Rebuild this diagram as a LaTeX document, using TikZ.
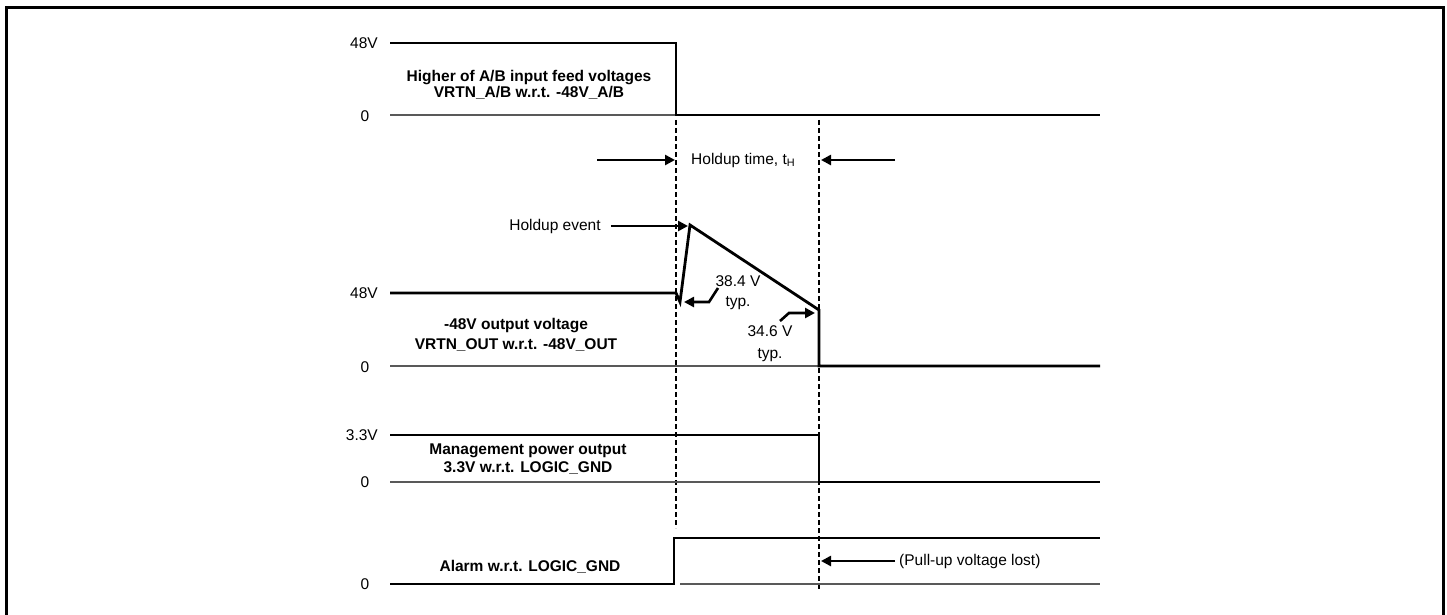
\documentclass[tikz,border=0pt]{standalone}
\usepackage{fontspec}
\setmainfont{Liberation Sans}
\usetikzlibrary{arrows.meta}
\begin{document}
\begin{tikzpicture}[x=1pt,y=-1pt,
  sig/.style={line width=2.8pt,line join=miter},
  base/.style={line width=1.2pt,black!65},
  dashln/.style={line width=1.3pt,dash pattern=on 5pt off 3pt},
  arr/.style={line width=2.6pt,-{Triangle[length=10pt,width=10pt]}},
  lbl/.style={font=\fontsize{15.5}{16.6}\selectfont,inner sep=0pt},
  blbl/.style={font=\fontsize{15.5}{16.6}\selectfont\bfseries,inner sep=0pt,align=center},
]
\useasboundingbox (0,0) rectangle (1447,615);
\draw[line width=3pt] (6,615) -- (6,7.5) -- (1443.5,7.5) -- (1443.5,615);

% ---- signal 1: input feed
\coordinate (a0) at (390,43);
\coordinate (a1) at (676,43);
\coordinate (a2) at (676,115);
\coordinate (a3) at (1100,115);
\coordinate (ab) at (390,115);
\draw[base] (ab) -- (a2);
\draw[sig] (a0) -- (a1) -- (a2) -- (a3);
\node[lbl,anchor=east] (l48a) at (378,43) {48V};
\node[lbl] (l0a) at (365,116) {0};
\node[blbl,font=\fontsize{15.5}{16.6}\selectfont\bfseries] (ta) at (529,85) {Higher of A/B input feed voltages\\VRTN\_A/B w.r.t. -48V\_A/B};

% ---- dashed markers
\coordinate (d1t) at (676,120);
\coordinate (d1b) at (676,528);
\coordinate (d2t) at (819,120);
\coordinate (d2b) at (819,590);
\draw[dashln] (d1t) -- (d1b);
\draw[dashln] (d2t) -- (d2b);

% ---- holdup time
\coordinate (h1s) at (597,160);
\coordinate (h1e) at (675,160);
\coordinate (h2s) at (895,160);
\coordinate (h2e) at (821,160);
\draw[arr] (h1s) -- (h1e);
\draw[arr] (h2s) -- (h2e);
\node[lbl,anchor=west] (th) at (691,160) {Holdup time, t\textsubscript{H}};

% ---- signal 2: -48V output
\coordinate (b0) at (390,293);
\coordinate (b1) at (676,293);
\coordinate (b2) at (680,302);
\coordinate (b3) at (690,225);
\coordinate (b4) at (819,310);
\coordinate (b5) at (819,366);
\coordinate (b6) at (1100,366);
\coordinate (bb) at (390,366);
\draw[base] (bb) -- (b5);
\draw[sig] (b0) -- (b1) -- (b2) -- (b3) -- (b4) -- (b5) -- (b6);
\node[lbl,anchor=east] (l48b) at (378,293) {48V};
\node[lbl] (l0b) at (365,367) {0};
\node[blbl,font=\fontsize{15.5}{19.5}\selectfont\bfseries] (tb) at (516,335) {-48V output voltage\\VRTN\_OUT w.r.t. -48V\_OUT};

\node[lbl] (he) at (555,226) {Holdup event};
\coordinate (hee) at (688,226);
\draw[arr] (he.east) ++(10,0) coordinate (hes) -- (hee);

\node[lbl,align=center,font=\fontsize{15.5}{20}\selectfont] (v384) at (738,293) {38.4 V\\typ.};
\coordinate (c1) at (718,288);
\coordinate (c2) at (709,302);
\coordinate (c3) at (684,302);
\draw[arr] (c1) -- (c2) -- (c3);

\node[lbl,align=center,font=\fontsize{15.5}{22}\selectfont] (v346) at (770,344) {34.6 V\\typ.};
\coordinate (e1) at (780,321);
\coordinate (e2) at (789,313);
\coordinate (e3) at (815,313);
\draw[arr] (e1) -- (e2) -- (e3);

% ---- signal 3: management power
\coordinate (m0) at (390,435);
\coordinate (m1) at (819,435);
\coordinate (m2) at (819,482);
\coordinate (m3) at (1100,482);
\coordinate (mb) at (390,482);
\draw[base] (mb) -- (m2);
\draw[sig] (m0) -- (m1) -- (m2) -- (m3);
\node[lbl,anchor=east] (l33) at (378,435) {3.3V};
\node[lbl] (l0c) at (365,482) {0};
\node[blbl,font=\fontsize{15.5}{18}\selectfont\bfseries] (tm) at (528,459) {Management power output\\3.3V w.r.t. LOGIC\_GND};

% ---- signal 4: alarm
\coordinate (p0) at (390,584);
\coordinate (p1) at (674,584);
\coordinate (p2) at (674,538);
\coordinate (p3) at (1100,538);
\coordinate (pb) at (680,584);
\coordinate (pe) at (1100,584);
\draw[base] (pb) -- (pe);
\draw[sig] (p0) -- (p1) -- (p2) -- (p3);
\node[lbl] (l0d) at (365,584) {0};
\node[blbl] (tal) at (530,567) {Alarm w.r.t. LOGIC\_GND};

\node[lbl,anchor=west] (pl) at (899,561) {(Pull-up voltage lost)};
\coordinate (ple) at (821,561);
\draw[arr] (pl.west) ++(-4,0) coordinate (pls) -- (ple);
\end{tikzpicture}
\end{document}
